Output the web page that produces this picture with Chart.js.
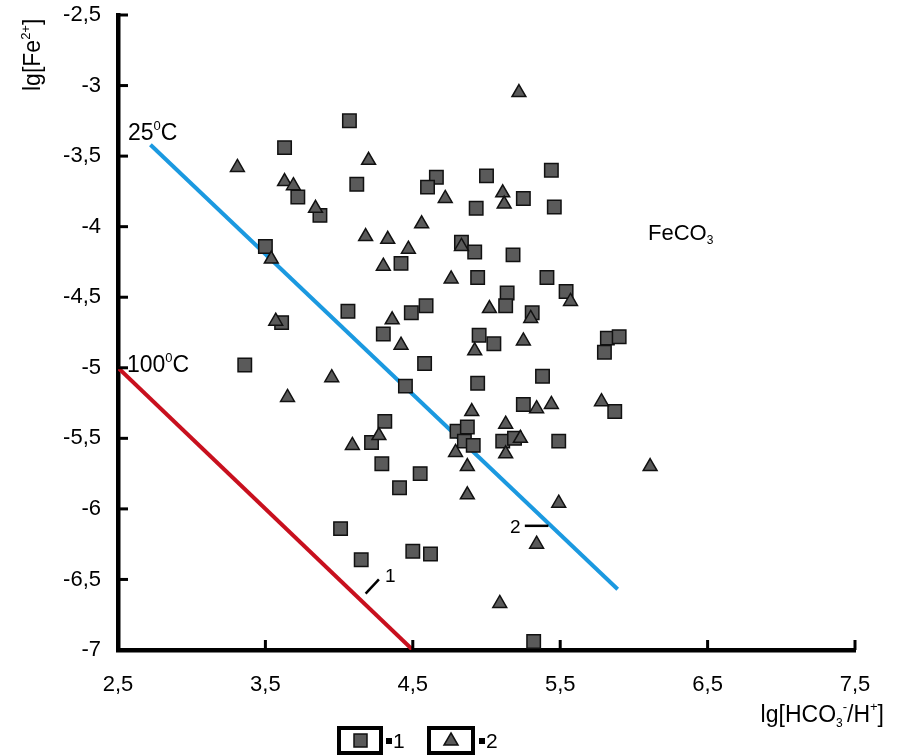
<!DOCTYPE html>
<html>
<head>
<meta charset="utf-8">
<script src="https://cdn.jsdelivr.net/npm/chart.js@4.4.0/dist/chart.umd.min.js"></script>
<style>
html, body { margin: 0; padding: 0; background: #fff; }
#wrap { width: 899px; height: 755px; position: relative; }
</style>
</head>
<body>
<div id="wrap"><canvas id="chart"></canvas></div>
<script>
const xTicks = [2.5, 3.5, 4.5, 5.5, 6.5, 7.5];
const yTicks = [-2.5, -3, -3.5, -4, -4.5, -5, -5.5, -6, -6.5, -7];

// group 1 (squares)
const sqX = [4.07, 3.63, 3.72, 4.12, 4.66, 4.60, 3.87, 4.42, 3.50, 4.06,
  4.49, 4.59, 4.30, 3.61, 5.00, 5.44, 5.25, 4.93, 5.46, 4.83,
  4.92, 5.18, 4.94, 5.41, 5.54, 5.14, 5.13, 5.31, 4.95, 5.05,
  5.82, 5.90, 5.80, 4.58, 4.94, 5.38, 5.25, 5.87, 4.80, 4.87,
  4.85, 4.91, 5.11, 5.19, 5.49, 4.62, 5.32, 4.55, 3.36, 4.45,
  4.31, 4.22, 4.29, 4.41, 4.01, 4.15, 4.50];
const sqY = [-3.25, -3.44, -3.79, -3.70, -3.65, -3.72, -3.92, -4.26, -4.14, -4.60,
  -4.61, -4.56, -4.76, -4.68, -3.64, -3.60, -3.80, -3.87, -3.86, -4.11,
  -4.18, -4.20, -4.36, -4.36, -4.46, -4.47, -4.56, -4.61, -4.77, -4.83,
  -4.79, -4.78, -4.89, -4.97, -5.11, -5.06, -5.26, -5.31, -5.45, -5.42,
  -5.52, -5.55, -5.52, -5.50, -5.52, -6.32, -6.94, -5.75, -4.98, -5.13,
  -5.38, -5.53, -5.68, -5.85, -6.14, -6.36, -6.30];

// group 2 (triangles)
const trX = [3.31, 4.20, 3.63, 3.69, 4.72, 3.84, 4.56, 4.18, 4.33, 4.47,
  4.30, 3.54, 4.76, 4.36, 3.57, 5.22, 5.11, 5.12, 4.83, 5.57,
  5.02, 5.30, 4.92, 5.25, 5.34, 5.44, 5.78, 4.90, 4.79, 5.13,
  5.23, 5.13, 4.87, 6.11, 4.87, 5.49, 5.34, 5.09, 4.42, 3.95,
  3.65, 4.09, 4.27];
const trY = [-3.58, -3.53, -3.68, -3.71, -3.80, -3.87, -3.98, -4.07, -4.09, -4.16,
  -4.28, -4.23, -4.37, -4.66, -4.67, -3.05, -3.76, -3.84, -4.14, -4.53,
  -4.58, -4.65, -4.88, -4.81, -5.29, -5.26, -5.24, -5.31, -5.60, -5.40,
  -5.50, -5.61, -5.70, -5.70, -5.90, -5.96, -6.25, -6.67, -4.84, -5.07,
  -5.21, -5.55, -5.48];

// equilibrium lines
const line25X = [2.72, 5.89];
const line25Y = [-3.42, -6.57];
const line100X = [2.5, 4.5];
const line100Y = [-5, -7];

// leader marks "1" and "2"
const lead1X = [4.18, 4.27];
const lead1Y = [-6.60, -6.50];
const lead2X = [5.26, 5.42];
const lead2Y = [-6.12, -6.12];

const FONT = '"Liberation Sans", Arial, sans-serif';
const BLUE = '#1b99e0';
const RED = '#c8101e';
const GRAY = '#5a5a5a';

const pts = (xs, ys) => xs.map((x, i) => ({ x, y: ys[i] }));

function richText(ctx, parts, x, y, align) {
  let w = 0;
  parts.forEach(p => { ctx.font = p.size + 'px ' + FONT; w += ctx.measureText(p.t).width; });
  let cx = align === 'right' ? x - w : x;
  parts.forEach(p => {
    ctx.font = p.size + 'px ' + FONT;
    ctx.fillText(p.t, cx, y + (p.dy || 0));
    cx += ctx.measureText(p.t).width;
  });
}

const extras = {
  id: 'extras',
  afterDraw(chart) {
    const { ctx, chartArea: a, scales: { x, y } } = chart;
    ctx.save();
    ctx.fillStyle = '#000';
    ctx.strokeStyle = '#000';
    ctx.textBaseline = 'alphabetic';
    ctx.textAlign = 'left';

    // inward tick marks
    ctx.lineWidth = 3;
    yTicks.slice(0, -1).forEach(v => {
      const py = y.getPixelForValue(v);
      ctx.beginPath(); ctx.moveTo(a.left, py); ctx.lineTo(a.left + 10, py); ctx.stroke();
    });
    xTicks.slice(1).forEach(v => {
      const px = x.getPixelForValue(v);
      ctx.beginPath(); ctx.moveTo(px, a.bottom); ctx.lineTo(px, a.bottom - 10); ctx.stroke();
    });

    // leader marks
    ctx.lineWidth = 2.5;
    [[lead1X, lead1Y], [lead2X, lead2Y]].forEach(([lx, ly]) => {
      ctx.beginPath();
      ctx.moveTo(x.getPixelForValue(lx[0]), y.getPixelForValue(ly[0]));
      ctx.lineTo(x.getPixelForValue(lx[1]), y.getPixelForValue(ly[1]));
      ctx.stroke();
    });

    // annotations
    const at = (vx, vy) => [x.getPixelForValue(vx), y.getPixelForValue(vy)];
    let p = at(2.568, -3.386);
    richText(ctx, [{ t: '25', size: 23 }, { t: '0', size: 13, dy: -10 }, { t: 'C', size: 23 }], p[0], p[1]);
    p = at(2.561, -5.03);
    richText(ctx, [{ t: '100', size: 23 }, { t: '0', size: 13, dy: -10 }, { t: 'C', size: 23 }], p[0], p[1]);
    p = at(6.096, -4.095);
    richText(ctx, [{ t: 'FeCO', size: 22 }, { t: '3', size: 12, dy: 4 }], p[0], p[1]);
    p = at(4.311, -6.518);
    richText(ctx, [{ t: '1', size: 19 }], p[0], p[1]);
    p = at(5.159, -6.171);
    richText(ctx, [{ t: '2', size: 19 }], p[0], p[1]);

    // axis titles
    richText(ctx, [{ t: 'lg[HCO', size: 23 }, { t: '3', size: 12, dy: 5 }, { t: '-', size: 13, dy: -11 },
      { t: '/H', size: 23 }, { t: '+', size: 13, dy: -11 }, { t: ']', size: 23 }], 884, 722, 'right');
    ctx.save();
    ctx.translate(40, 91);
    ctx.rotate(-Math.PI / 2);
    richText(ctx, [{ t: 'lg[Fe', size: 23 }, { t: '2+', size: 13, dy: -10 }, { t: ']', size: 23 }], 0, 0);
    ctx.restore();

    // legend
    ctx.lineWidth = 4;
    ctx.strokeRect(339, 728, 42, 25);
    ctx.strokeRect(429, 728, 44, 25);
    ctx.fillStyle = GRAY;
    ctx.lineWidth = 1.5;
    ctx.strokeStyle = '#111';
    ctx.fillRect(354, 734, 13, 13);
    ctx.strokeRect(354, 734, 13, 13);
    ctx.beginPath();
    ctx.moveTo(451, 733); ctx.lineTo(458, 745); ctx.lineTo(444, 745); ctx.closePath();
    ctx.fill(); ctx.stroke();
    ctx.fillStyle = '#000';
    ctx.fillRect(386, 738, 6, 6);
    ctx.fillRect(479, 738, 6, 6);
    ctx.font = '21px ' + FONT;
    ctx.fillText('1', 393, 748);
    ctx.fillText('2', 486, 748);
    ctx.restore();
  }
};

new Chart(document.getElementById('chart'), {
  type: 'scatter',
  data: {
    datasets: [
      {
        data: pts(trX, trY), pointStyle: 'triangle', pointRadius: 8,
        backgroundColor: GRAY, borderColor: '#111', borderWidth: 1.5, order: 0
      },
      {
        data: pts(sqX, sqY), pointStyle: 'rect', pointRadius: 9.5,
        backgroundColor: GRAY, borderColor: '#111', borderWidth: 1.5, order: 1
      },
      {
        type: 'line', data: pts(line25X, line25Y), borderColor: BLUE, borderWidth: 4,
        pointRadius: 0, fill: false, order: 2
      },
      {
        type: 'line', data: pts(line100X, line100Y), borderColor: RED, borderWidth: 4,
        pointRadius: 0, fill: false, order: 2
      }
    ]
  },
  options: {
    responsive: true,
    maintainAspectRatio: false,
    animation: false,
    layout: { padding: { top: 15, right: 44, left: 0, bottom: 0 } },
    plugins: { legend: { display: false }, tooltip: { enabled: false } },
    scales: {
      x: {
        type: 'linear', min: 2.5, max: 7.5,
        afterFit: s => { s.height = 105; s.paddingLeft = 0; s.paddingRight = 0; },
        afterBuildTicks: s => { s.ticks = xTicks.map(v => ({ value: v })); },
        grid: { display: false, drawTicks: false },
        border: { display: true, width: 4.5, color: '#000' },
        ticks: {
          padding: 22, color: '#000', font: { family: FONT, size: 22 },
          callback: v => String(v).replace('.', ',')
        }
      },
      y: {
        type: 'linear', min: -7, max: -2.5,
        afterFit: s => { s.width = 118; s.paddingTop = 0; s.paddingBottom = 0; },
        afterBuildTicks: s => { s.ticks = yTicks.map(v => ({ value: v })); },
        grid: { display: false, drawTicks: false },
        border: { display: true, width: 4.5, color: '#000' },
        ticks: {
          padding: 17, color: '#000', font: { family: FONT, size: 22 },
          callback: v => String(v).replace('.', ',')
        }
      }
    }
  },
  plugins: [extras]
});
</script>
</body>
</html>
